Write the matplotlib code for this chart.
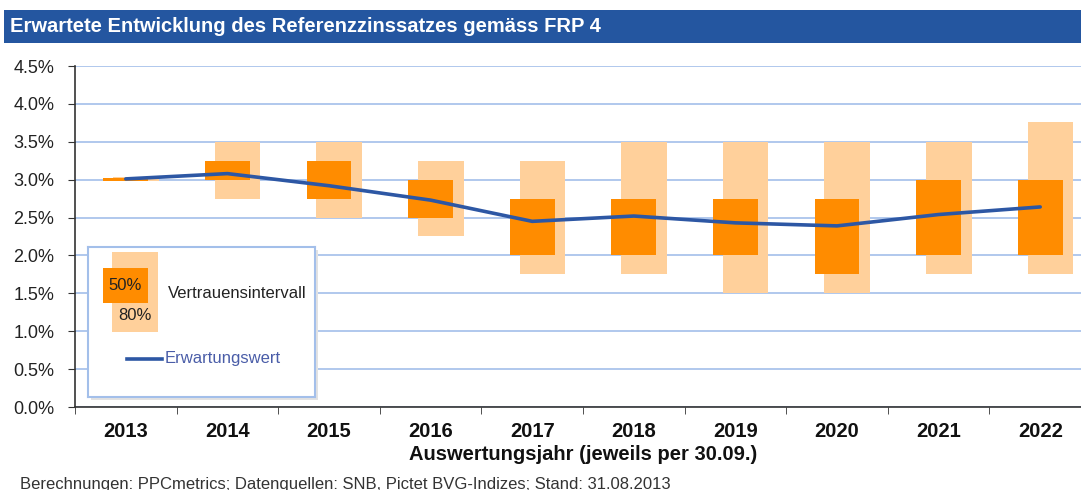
import numpy as np
import matplotlib
matplotlib.use("Agg")
import matplotlib.pyplot as plt
from matplotlib.patches import Rectangle

plt.rcParams['font.family'] = ['Liberation Sans', 'DejaVu Sans']

# data (percent)
years = ["2013", "2014", "2015", "2016", "2017", "2018", "2019", "2020", "2021", "2022"]
ci50_low = [2.98, 3.00, 2.75, 2.50, 2.00, 2.00, 2.00, 1.75, 2.00, 2.00]
ci50_high = [3.02, 3.25, 3.25, 3.00, 2.75, 2.75, 2.75, 2.75, 3.00, 3.00]
ci80_low = [2.98, 2.75, 2.50, 2.25, 1.75, 1.75, 1.50, 1.50, 1.75, 1.75]
ci80_high = [3.03, 3.50, 3.50, 3.25, 3.25, 3.50, 3.50, 3.50, 3.50, 3.76]
expected = [3.01, 3.08, 2.92, 2.73, 2.45, 2.52, 2.43, 2.39, 2.54, 2.64]
y_ticks = [0.0, 0.5, 1.0, 1.5, 2.0, 2.5, 3.0, 3.5, 4.0, 4.5]

W, H = 1081, 490
dark_orange = "#FF8C00"
light_orange = "#FFD09B"
line_blue = "#2D57A4"
grid_blue = "#A3BFEA"


def fx(px):
    return px / W


def fy(py):
    return 1 - py / H


fig = plt.figure(figsize=(W / 100, H / 100), dpi=100)

# title bar
fig.add_artist(Rectangle((fx(4), fy(43)), fx(W) - fx(4), (43 - 10) / H,
                         transform=fig.transFigure, facecolor="#2456A0",
                         edgecolor="none"))
fig.text(fx(10), fy(27), "Erwartete Entwicklung des Referenzzinssatzes gemäss FRP 4",
         color="white", fontsize=14.5, fontweight="bold", va="center", ha="left")

ax = fig.add_axes([fx(75), fy(407), fx(1091) - fx(75), (407 - 66) / H])
x = np.arange(len(years))

lo80 = np.array(ci80_low)
hi80 = np.array(ci80_high)
lo50 = np.array(ci50_low)
hi50 = np.array(ci50_high)

ax.bar(x + 0.10, hi80 - lo80, bottom=lo80, width=0.45, color=light_orange, zorder=2)
ax.bar(x, hi50 - lo50, bottom=lo50, width=0.44, color=dark_orange, zorder=3)
ax.plot(x, expected, color=line_blue, lw=2.6, zorder=4, solid_capstyle="round")

ax.set_xlim(-0.5, len(years) - 0.5)
ax.set_ylim(0, 4.5)
ax.set_yticks(y_ticks)
ax.set_yticklabels([f"{v:.1f}%" for v in y_ticks], fontsize=13, color="#222222")
ax.yaxis.grid(True, color=grid_blue, lw=1.2, zorder=0)
ax.set_axisbelow(True)

ax.set_xticks(x)
ax.set_xticklabels(years, fontsize=14.5, fontweight="bold", color="#111111")
ax.set_xticks(np.arange(len(years) + 1) - 0.5, minor=True)
ax.tick_params(axis="x", which="major", length=0, pad=11)
ax.tick_params(axis="x", which="minor", length=5, direction="out", color="#333333")
ax.tick_params(axis="y", length=5, direction="out", color="#333333", pad=10)
ax.set_xlabel("Auswertungsjahr (jeweils per 30.09.)", fontsize=14.5, fontweight="bold",
              color="#111111")
ax.xaxis.set_label_coords((583 - 75) / (1091 - 75), -(454 - 407) / (407 - 66))
ax.xaxis.label.set_va("center")

for side in ["top", "right"]:
    ax.spines[side].set_visible(False)
ax.spines["left"].set_color("#333333")
ax.spines["bottom"].set_color("#333333")
ax.spines["left"].set_linewidth(1.2)
ax.spines["bottom"].set_linewidth(1.2)

# legend box (drawn in pixel coords)
fig.add_artist(Rectangle((fx(91), fy(400)), (315 - 88) / W, (397 - 247) / H,
                         transform=fig.transFigure, facecolor="#E2E2E2",
                         edgecolor="none", zorder=5))
lax = fig.add_axes([fx(88), fy(397), (315 - 88) / W, (397 - 247) / H], zorder=6)
lax.set_xlim(0, 227)
lax.set_ylim(150, 0)
lax.set_xticks([])
lax.set_yticks([])
for s in lax.spines.values():
    s.set_color(grid_blue)
    s.set_linewidth(1.5)
lax.add_patch(Rectangle((24, 5), 46, 80, facecolor=light_orange, edgecolor="none"))
lax.add_patch(Rectangle((15, 21), 45, 35, facecolor=dark_orange, edgecolor="none"))
lax.text(37.5, 39, "50%", fontsize=12, ha="center", va="center", color="#222222")
lax.text(47, 69, "80%", fontsize=12, ha="center", va="center", color="#222222")
lax.text(80, 46, "Vertrauensintervall", fontsize=12, ha="left", va="center",
         color="#222222")
lax.plot([39, 74], [112, 112], color=line_blue, lw=2.6)
lax.text(77, 111, "Erwartungswert", fontsize=12, ha="left", va="center",
         color="#4A5DA8")

fig.text(fx(20), fy(484), "Berechnungen: PPCmetrics; Datenquellen: SNB, Pictet BVG-Indizes; "
         "Stand: 31.08.2013", fontsize=12, color="#333333", ha="left", va="center")

fig.savefig("out.png", dpi=100)
